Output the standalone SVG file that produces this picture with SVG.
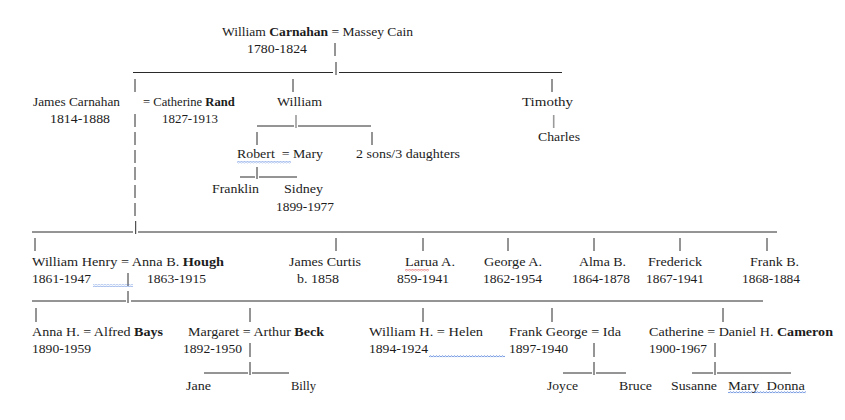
<svg xmlns="http://www.w3.org/2000/svg" width="845" height="420" viewBox="0 0 845 420">
<style>
.t text{fill:#1c1c1c}
.b{font-weight:bold}
.c line{stroke:#2a2a2a;stroke-width:1}
.c line.g{stroke:#9a9a9a;stroke-width:1.6}
</style>
<defs>
<pattern id="zb" width="3" height="2.4" patternUnits="userSpaceOnUse"><path d="M0,1.8 L1.5,0.5 L3,1.8" fill="none" stroke="#3b6fd6" stroke-width="0.8"/></pattern>
<pattern id="zr" width="3" height="2.4" patternUnits="userSpaceOnUse"><path d="M0,1.8 L1.5,0.5 L3,1.8" fill="none" stroke="#e02020" stroke-width="0.8"/></pattern>
</defs>
<rect width="845" height="420" fill="#fff"/>

<g id="connectors" class="c">
<line x1="335" y1="43" x2="335" y2="56"/>
<line x1="133" y1="72.5" x2="333" y2="72.5"/>
<line x1="336" y1="62" x2="336" y2="75"/>
<line x1="339" y1="72.5" x2="562" y2="72.5"/>
<line x1="135" y1="79" x2="135" y2="92"/>
<line x1="293" y1="79" x2="293" y2="92"/>
<line x1="552" y1="79" x2="552" y2="92"/>
<line x1="135" y1="114" x2="135" y2="127"/>
<line x1="257" y1="126" x2="294" y2="126"/>
<line class="g" x1="296" y1="115" x2="296" y2="128"/>
<line x1="298" y1="126" x2="371" y2="126"/>
<line class="g" x1="553.7" y1="115" x2="553.7" y2="128"/>
<line x1="135" y1="132" x2="135" y2="145"/>
<line x1="257" y1="132" x2="257" y2="145"/>
<line x1="372" y1="132" x2="372" y2="145"/>
<line x1="135" y1="150" x2="135" y2="163"/>
<line x1="135" y1="167" x2="135" y2="180"/>
<line x1="240" y1="177" x2="255" y2="177"/>
<line x1="257" y1="167" x2="257" y2="179"/>
<line x1="259" y1="177" x2="297" y2="177"/>
<line x1="135" y1="185" x2="135" y2="198"/>
<line x1="135" y1="203" x2="135" y2="216"/>
<line x1="32" y1="232" x2="133" y2="232"/>
<line x1="135.7" y1="221" x2="135.7" y2="234"/>
<line x1="138" y1="232" x2="777" y2="232"/>
<line x1="35" y1="238" x2="35" y2="251"/>
<line x1="336" y1="238" x2="336" y2="251"/>
<line x1="423" y1="238" x2="423" y2="251"/>
<line x1="508" y1="238" x2="508" y2="251"/>
<line x1="594" y1="238" x2="594" y2="251"/>
<line x1="680" y1="238" x2="680" y2="251"/>
<line x1="767" y1="238" x2="767" y2="251"/>
<line x1="128" y1="273" x2="128" y2="286"/>
<line x1="32" y1="301" x2="126" y2="301"/>
<line x1="128" y1="291" x2="128" y2="303"/>
<line x1="131" y1="301" x2="763" y2="301"/>
<line x1="36" y1="308" x2="36" y2="322"/>
<line x1="250" y1="308" x2="250" y2="322"/>
<line x1="423" y1="308" x2="423" y2="322"/>
<line x1="552" y1="308" x2="552" y2="322"/>
<line x1="723" y1="308" x2="723" y2="322"/>
<line x1="250" y1="343" x2="250" y2="357"/>
<line x1="594" y1="343" x2="594" y2="357"/>
<line x1="715" y1="343" x2="715" y2="357"/>
<line x1="204" y1="373" x2="248" y2="373"/>
<line x1="250" y1="362" x2="250" y2="375"/>
<line x1="252" y1="373" x2="289" y2="373"/>
<line x1="563" y1="373" x2="592" y2="373"/>
<line x1="594" y1="362" x2="594" y2="375"/>
<line x1="596" y1="373" x2="626" y2="373"/>
<line x1="692" y1="373" x2="713" y2="373"/>
<line x1="715" y1="362" x2="715" y2="375"/>
<line x1="717" y1="373" x2="791" y2="373"/>
</g>

<g id="squiggles">
<rect x="237" y="161" width="54" height="2.4" fill="url(#zb)"/>
<rect x="405" y="269" width="24" height="2.4" fill="url(#zr)"/>
<rect x="93" y="284.5" width="40" height="2.4" fill="url(#zb)"/>
<rect x="429" y="355" width="76" height="2.4" fill="url(#zb)"/>
<rect x="728" y="391" width="78" height="2.4" fill="url(#zb)"/>
</g>

<g class="t" font-family="'Liberation Serif', 'Times New Roman', serif" font-size="13.5">
<g id="william-carnahan"><text x="222" y="36" textLength="191" lengthAdjust="spacingAndGlyphs">William <tspan class="b">Carnahan</tspan> = Massey Cain</text><text x="247" y="53" textLength="60" lengthAdjust="spacingAndGlyphs">1780-1824</text></g>

<g id="james-carnahan"><text x="33" y="106" textLength="87" lengthAdjust="spacingAndGlyphs">James Carnahan</text><text x="50" y="123" textLength="60" lengthAdjust="spacingAndGlyphs">1814-1888</text></g>
<g id="catherine-rand"><text x="143" y="106" font-size="12.6">= Catherine <tspan class="b">Rand</tspan></text><text x="162" y="123" textLength="56" lengthAdjust="spacingAndGlyphs">1827-1913</text></g>
<g id="william"><text x="277" y="106" textLength="45" lengthAdjust="spacingAndGlyphs">William</text></g>
<g id="timothy"><text x="522" y="106" textLength="51" lengthAdjust="spacingAndGlyphs">Timothy</text></g>
<g id="charles"><text x="538" y="141" textLength="42" lengthAdjust="spacingAndGlyphs">Charles</text></g>
<g id="robert-mary"><text x="237" y="158" textLength="86" lengthAdjust="spacingAndGlyphs" xml:space="preserve">Robert  = Mary</text></g>
<g id="sons-daughters"><text x="356" y="158" textLength="104" lengthAdjust="spacingAndGlyphs">2 sons/3 daughters</text></g>
<g id="franklin"><text x="212" y="193" textLength="47" lengthAdjust="spacingAndGlyphs">Franklin</text></g>
<g id="sidney"><text x="284" y="193" textLength="39" lengthAdjust="spacingAndGlyphs">Sidney</text><text x="276" y="211" textLength="58" lengthAdjust="spacingAndGlyphs">1899-1977</text></g>

<g id="william-henry"><text x="32" y="266" textLength="192" lengthAdjust="spacingAndGlyphs">William Henry = Anna B. <tspan class="b">Hough</tspan></text><text x="32" y="283" textLength="59" lengthAdjust="spacingAndGlyphs">1861-1947</text><text x="147" y="283" textLength="59" lengthAdjust="spacingAndGlyphs">1863-1915</text></g>
<g id="james-curtis"><text x="289" y="266" textLength="72" lengthAdjust="spacingAndGlyphs">James Curtis</text><text x="297" y="283" textLength="42" lengthAdjust="spacingAndGlyphs">b. 1858</text></g>
<g id="larua"><text x="405" y="266" textLength="50" lengthAdjust="spacingAndGlyphs">Larua A.</text><text x="397" y="283" textLength="52" lengthAdjust="spacingAndGlyphs">859-1941</text></g>
<g id="george"><text x="484" y="266" textLength="58" lengthAdjust="spacingAndGlyphs">George A.</text><text x="483" y="283" textLength="59" lengthAdjust="spacingAndGlyphs">1862-1954</text></g>
<g id="alma"><text x="579" y="266" textLength="47" lengthAdjust="spacingAndGlyphs">Alma B.</text><text x="572" y="283" textLength="58" lengthAdjust="spacingAndGlyphs">1864-1878</text></g>
<g id="frederick"><text x="648" y="266" textLength="54" lengthAdjust="spacingAndGlyphs">Frederick</text><text x="646" y="283" textLength="58" lengthAdjust="spacingAndGlyphs">1867-1941</text></g>
<g id="frank-b"><text x="750" y="266" textLength="49" lengthAdjust="spacingAndGlyphs">Frank B.</text><text x="742" y="283" textLength="58" lengthAdjust="spacingAndGlyphs">1868-1884</text></g>

<g id="anna-h"><text x="32" y="336" textLength="131" lengthAdjust="spacingAndGlyphs">Anna H. = Alfred <tspan class="b">Bays</tspan></text><text x="32" y="353" textLength="59" lengthAdjust="spacingAndGlyphs">1890-1959</text></g>
<g id="margaret"><text x="188" y="336" textLength="136" lengthAdjust="spacingAndGlyphs">Margaret = Arthur <tspan class="b">Beck</tspan></text><text x="183" y="353" textLength="59" lengthAdjust="spacingAndGlyphs">1892-1950</text></g>
<g id="william-h"><text x="369" y="336" textLength="114" lengthAdjust="spacingAndGlyphs">William H. = Helen</text><text x="369" y="353" textLength="59" lengthAdjust="spacingAndGlyphs">1894-1924</text></g>
<g id="frank-george"><text x="509" y="336" textLength="112" lengthAdjust="spacingAndGlyphs">Frank George = Ida</text><text x="509" y="353" textLength="59" lengthAdjust="spacingAndGlyphs">1897-1940</text></g>
<g id="catherine"><text x="649" y="336" textLength="184" lengthAdjust="spacingAndGlyphs">Catherine = Daniel H. <tspan class="b">Cameron</tspan></text><text x="649" y="353" textLength="58" lengthAdjust="spacingAndGlyphs">1900-1967</text></g>

<g id="jane"><text x="186" y="390" textLength="25" lengthAdjust="spacingAndGlyphs">Jane</text></g>
<g id="billy"><text x="291" y="390" textLength="25" lengthAdjust="spacingAndGlyphs">Billy</text></g>
<g id="joyce"><text x="547" y="390" textLength="31" lengthAdjust="spacingAndGlyphs">Joyce</text></g>
<g id="bruce"><text x="619" y="390" textLength="33" lengthAdjust="spacingAndGlyphs">Bruce</text></g>
<g id="susanne"><text x="671" y="390" textLength="46" lengthAdjust="spacingAndGlyphs">Susanne</text></g>
<g id="mary-donna"><text x="728" y="390" textLength="77" lengthAdjust="spacingAndGlyphs" xml:space="preserve">Mary  Donna</text></g>
</g>
</svg>
